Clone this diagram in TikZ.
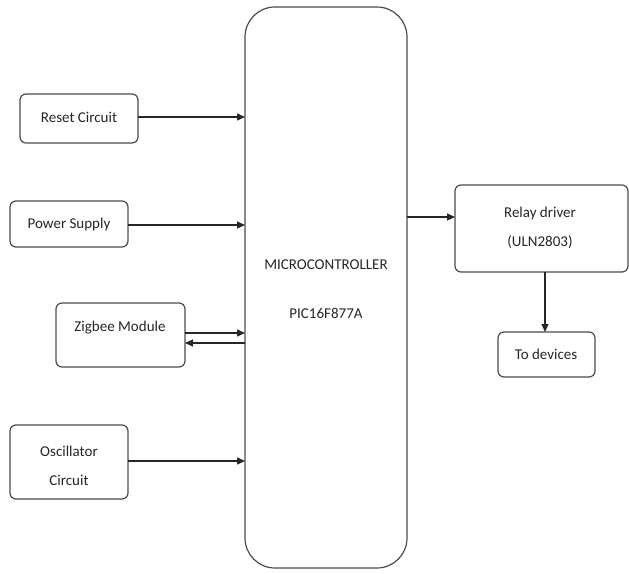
\documentclass[tikz,border=0pt]{standalone}
\usepackage{fontspec}
\setmainfont{Carlito}
\usetikzlibrary{arrows.meta}
\begin{document}
\begin{tikzpicture}[x=1pt,y=-1pt,
  blk/.style={draw=black!70,line width=1.2pt,rounded corners=6pt,fill=white},
  lbl/.style={font=\fontsize{15}{17}\selectfont,text=black!85,align=center},
  conn/.style={line width=1.3pt,draw=black!85,-{Triangle[length=8pt,width=7pt]}}]
\useasboundingbox (0,0) rectangle (629,573);
% boxes
\draw[blk,rounded corners=30pt] (245,7) rectangle (407,568);
\draw[blk] (20,94) rectangle (138,143);
\draw[blk] (10,201) rectangle (128,247);
\draw[blk] (56,303) rectangle (185,367);
\draw[blk] (10,425) rectangle (128,499);
\draw[blk] (455,185) rectangle (628,272);
\draw[blk] (498,332) rectangle (595,377);
% named anchors
\node[inner sep=0] (resetR) at (138,117) {};
\node[inner sep=0] (powerR) at (128,225) {};
\node[inner sep=0] (zigR1) at (185,333) {};
\node[inner sep=0] (zigR2) at (185,343) {};
\node[inner sep=0] (oscR) at (128,461) {};
\node[inner sep=0] (relL) at (455,217) {};
\node[inner sep=0] (relB) at (545,272) {};
\node[inner sep=0] (devT) at (545,332) {};
\coordinate (mcL1) at (245,117);
\coordinate (mcL2) at (245,225);
\coordinate (mcL3) at (245,333);
\coordinate (mcL4) at (245,343);
\coordinate (mcL5) at (245,461);
\coordinate (mcR) at (407,217);
% texts
\node[lbl] (tmc) at (326,265) {MICROCONTROLLER};
\node[lbl] (tpic) at (326,313) {PIC16F877A};
\node[lbl] (treset) at (79,117) {Reset Circuit};
\node[lbl] (tpower) at (69,224) {Power Supply};
\node[lbl] (tzig) at (120,328) {Zigbee Module};
\node[lbl] (tosc1) at (69,451) {Oscillator};
\node[lbl] (tosc2) at (69,480) {Circuit};
\node[lbl] (trel1) at (540,213) {Relay driver};
\node[lbl] (trel2) at (540,242) {(ULN2803)};
\node[lbl] (tdev) at (546,354) {To devices};
% connectors
\draw[conn] (resetR.center) -- (mcL1);
\draw[conn] (powerR.center) -- (mcL2);
\draw[conn] (zigR1.center) -- (mcL3);
\draw[conn] (mcL4) -- (zigR2.center);
\draw[conn] (oscR.center) -- (mcL5);
\draw[conn] (mcR) -- (relL.center);
\draw[conn] (relB.center) -- (devT.center);
\end{tikzpicture}
\end{document}
